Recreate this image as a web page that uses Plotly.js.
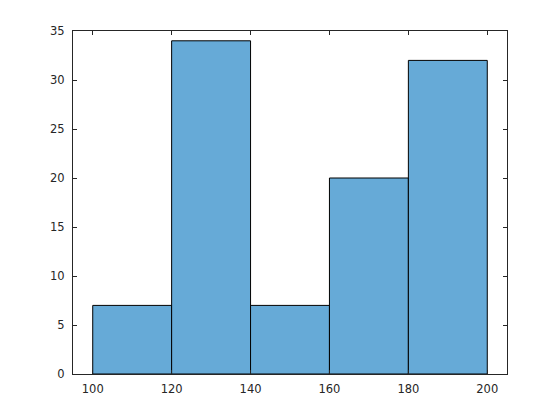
<!DOCTYPE html>
<html>
<head>
<meta charset="utf-8">
<script src="https://cdn.plot.ly/plotly-3.0.1.min.js"></script>
<style>html,body{margin:0;padding:0;background:#fff;}#chart{width:560px;height:420px;}</style>
</head>
<body>
<div id="chart"></div>
<script>
const binCenters = [110, 130, 150, 170, 190];
const counts = [7, 34, 7, 20, 32];
const binWidth = 20;
const xTicks = [100, 120, 140, 160, 180, 200];
const yTicks = [0, 5, 10, 15, 20, 25, 30, 35];

const axisColor = '#262626';
const trace = {
  type: 'bar',
  x: binCenters,
  y: counts,
  width: binCenters.map(() => binWidth),
  marker: {color: 'rgb(102,170,215)', line: {color: '#000', width: 1}},
  hoverinfo: 'none'
};
const layout = {
  width: 560, height: 420,
  margin: {l: 73, r: 53, t: 31, b: 46, pad: 0},
  paper_bgcolor: '#fff', plot_bgcolor: '#fff',
  showlegend: false,
  font: {family: 'DejaVu Sans', size: 11.5, color: axisColor},
  xaxis: {
    range: [95, 205], tickvals: xTicks, ticktext: xTicks.map(String),
    ticks: 'inside', ticklen: 4, tickcolor: axisColor, tickwidth: 1,
    showline: true, linecolor: axisColor, linewidth: 1, mirror: 'ticks',
    showgrid: false, zeroline: false, fixedrange: true, ticklabelstandoff: 4
  },
  yaxis: {
    range: [0, 35], tickvals: yTicks, ticktext: yTicks.map(String),
    ticks: 'inside', ticklen: 4, tickcolor: axisColor, tickwidth: 1,
    showline: true, linecolor: axisColor, linewidth: 1, mirror: 'ticks',
    showgrid: false, zeroline: false, fixedrange: true, ticklabelstandoff: 5
  },
  bargap: 0
};
Plotly.newPlot('chart', [trace], layout, {displayModeBar: false, staticPlot: true});
</script>
</body>
</html>
